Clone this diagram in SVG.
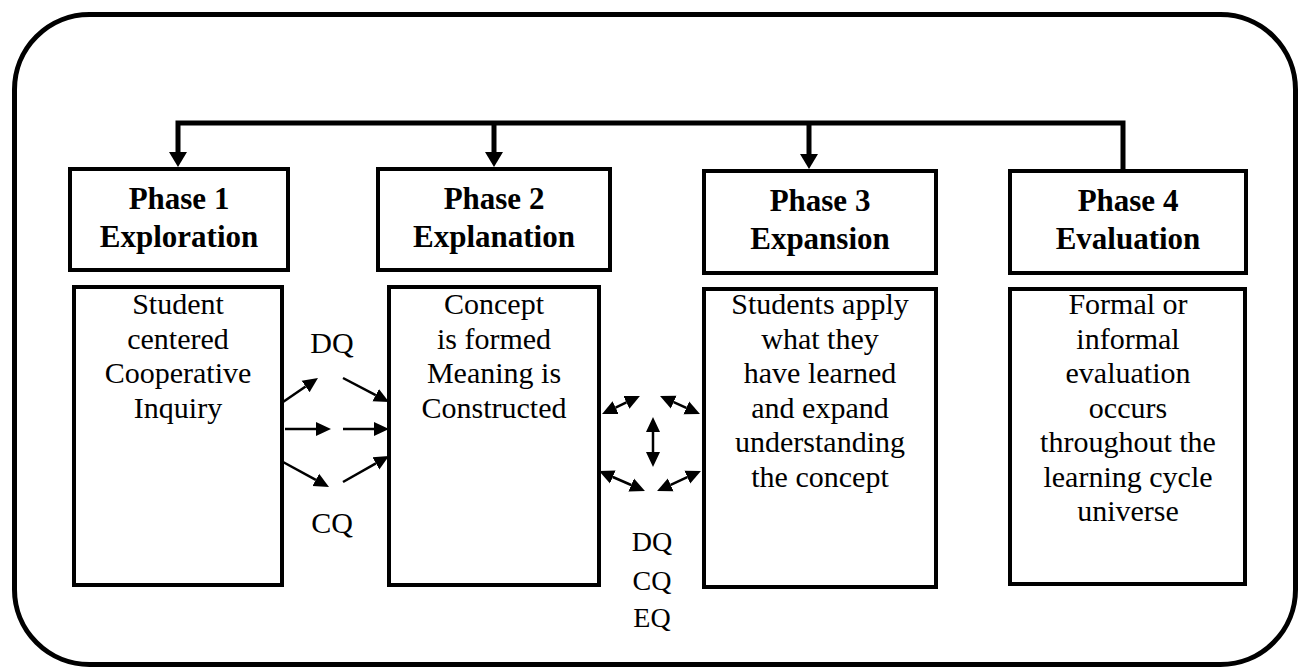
<svg xmlns="http://www.w3.org/2000/svg" width="1308" height="669" viewBox="0 0 1308 669">
  <style>
    .frame { fill: none; stroke: #000; stroke-width: 5; }
    .box { fill: #fff; stroke: #000; stroke-width: 4; }
    text { font-family: "Liberation Serif", "Times New Roman", Tinos, "DejaVu Serif", serif; text-anchor: middle; fill: #000; }
    .head { font-weight: bold; font-size: 31px; }
    .body { font-size: 30px; }
    .lbl { font-size: 28px; }
    .bus { fill: none; stroke: #000; stroke-width: 5; stroke-linejoin: miter; }
    .link { fill: none; stroke: #000; stroke-width: 2.5; }
  </style>
  <defs>
    <marker id="bigArrow" markerUnits="userSpaceOnUse" viewBox="0 -10 16 20" markerWidth="16" markerHeight="20" refX="0" refY="0" orient="auto-start-reverse">
      <path d="M0,-9 L15,0 L0,9 z" fill="#000"/>
    </marker>
    <marker id="arrow" markerUnits="userSpaceOnUse" viewBox="0 -8 16 16" markerWidth="16" markerHeight="16" refX="0" refY="0" orient="auto-start-reverse">
      <path d="M0,-7 L15,0 L0,7 z" fill="#000"/>
    </marker>
  </defs>

  <rect class="frame" x="14.5" y="14.5" width="1281" height="650" rx="75" ry="75"/>

  <g id="connectors">
    <!-- feedback bus across the top -->
    <path class="bus" d="M178,152 V123 H1123 V169" marker-start="url(#bigArrow)"/>
    <line class="bus" x1="494" y1="123" x2="494" y2="152" marker-end="url(#bigArrow)"/>
    <line class="bus" x1="809" y1="123" x2="809" y2="154" marker-end="url(#bigArrow)"/>

    <!-- Phase 1 to Phase 2 -->
    <line class="link" x1="283" y1="402" x2="305.6" y2="386.5" marker-end="url(#arrow)"/>
    <line class="link" x1="343" y1="378" x2="375.7" y2="395.1" marker-end="url(#arrow)"/>
    <line class="link" x1="285" y1="429" x2="316" y2="429" marker-end="url(#arrow)"/>
    <line class="link" x1="343" y1="429" x2="374" y2="429" marker-end="url(#arrow)"/>
    <line class="link" x1="283" y1="462" x2="315.8" y2="479.8" marker-end="url(#arrow)"/>
    <line class="link" x1="343" y1="482" x2="375.9" y2="463.4" marker-end="url(#arrow)"/>

    <!-- Phase 2 to Phase 3, two-way -->
    <line class="link" x1="615.6" y1="407.6" x2="626.4" y2="402.4" marker-start="url(#arrow)" marker-end="url(#arrow)"/>
    <line class="link" x1="673.7" y1="402.2" x2="686.3" y2="407.9" marker-start="url(#arrow)" marker-end="url(#arrow)"/>
    <line class="link" x1="653" y1="432" x2="653" y2="452" marker-start="url(#arrow)" marker-end="url(#arrow)"/>
    <line class="link" x1="612.8" y1="477" x2="631.2" y2="485" marker-start="url(#arrow)" marker-end="url(#arrow)"/>
    <line class="link" x1="670.7" y1="484.8" x2="687.3" y2="477.2" marker-start="url(#arrow)" marker-end="url(#arrow)"/>
  </g>

  <g id="phase1">
    <rect class="box" x="70" y="169" width="218" height="101"/>
    <text class="head" x="179" y="209">Phase 1</text>
    <text class="head" x="179" y="247">Exploration</text>
    <rect class="box" x="74" y="287" width="208" height="298"/>
    <text class="body" x="178" y="314">Student</text>
    <text class="body" x="178" y="348.5">centered</text>
    <text class="body" x="178" y="383">Cooperative</text>
    <text class="body" x="178" y="417.5">Inquiry</text>
  </g>

  <g id="phase2">
    <rect class="box" x="378" y="169" width="232" height="101"/>
    <text class="head" x="494" y="209">Phase 2</text>
    <text class="head" x="494" y="247">Explanation</text>
    <rect class="box" x="389" y="287" width="210" height="298"/>
    <text class="body" x="494" y="314">Concept</text>
    <text class="body" x="494" y="348.5">is formed</text>
    <text class="body" x="494" y="383">Meaning is</text>
    <text class="body" x="494" y="417.5">Constructed</text>
  </g>

  <g id="phase3">
    <rect class="box" x="704" y="171" width="232" height="102"/>
    <text class="head" x="820" y="211">Phase 3</text>
    <text class="head" x="820" y="249">Expansion</text>
    <rect class="box" x="704" y="289" width="232" height="298"/>
    <text class="body" x="820" y="314">Students apply</text>
    <text class="body" x="820" y="348.5">what they</text>
    <text class="body" x="820" y="383">have learned</text>
    <text class="body" x="820" y="417.5">and expand</text>
    <text class="body" x="820" y="452">understanding</text>
    <text class="body" x="820" y="486.5">the concept</text>
  </g>

  <g id="phase4">
    <rect class="box" x="1010" y="171" width="236" height="102"/>
    <text class="head" x="1128" y="211">Phase 4</text>
    <text class="head" x="1128" y="249">Evaluation</text>
    <rect class="box" x="1010" y="289" width="235" height="295"/>
    <text class="body" x="1128" y="314">Formal or</text>
    <text class="body" x="1128" y="348.5">informal</text>
    <text class="body" x="1128" y="383">evaluation</text>
    <text class="body" x="1128" y="417.5">occurs</text>
    <text class="body" x="1128" y="452">throughout the</text>
    <text class="body" x="1128" y="486.5">learning cycle</text>
    <text class="body" x="1128" y="521">universe</text>
  </g>

  <g id="labels">
    <text class="body" x="332" y="353">DQ</text>
    <text class="body" x="332" y="533">CQ</text>
    <text class="lbl" x="652" y="551">DQ</text>
    <text class="lbl" x="652" y="590">CQ</text>
    <text class="lbl" x="652" y="627">EQ</text>
  </g>
</svg>
